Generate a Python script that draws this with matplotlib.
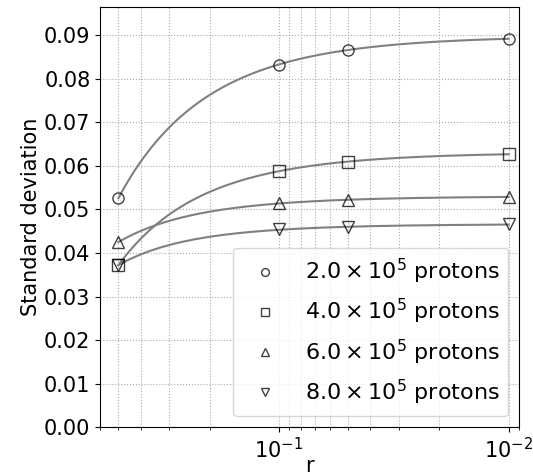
import numpy as np
import matplotlib.pyplot as plt

r = np.array([0.5, 0.1, 0.05, 0.01])
std_2e5 = [0.0526, 0.0833, 0.0867, 0.0892]
std_4e5 = [0.0372, 0.0589, 0.0608, 0.0628]
std_6e5 = [0.0425, 0.0514, 0.0522, 0.0529]
std_8e5 = [0.0372, 0.0454, 0.0459, 0.0466]

series = [std_2e5, std_4e5, std_6e5, std_8e5]
markers = ['o', 's', '^', 'v']
labels = [r'$2.0\times10^5$ protons', r'$4.0\times10^5$ protons',
          r'$6.0\times10^5$ protons', r'$8.0\times10^5$ protons']

fig, ax = plt.subplots(figsize=(5.33, 4.74), dpi=100)

rr = np.logspace(np.log10(r.min()), np.log10(r.max()), 200)
for y, m, lab in zip(series, markers, labels):
    # smooth fit through the points
    coef = np.polyfit(r, y, 2)
    ax.plot(rr, np.polyval(coef, rr), color='grey', lw=1.5, zorder=2)
    ax.plot(r, y, ls='none', marker=m, ms=8, mfc='none', mec='black',
            mew=1.0, alpha=0.75, label=lab, zorder=3)

ax.set_xscale('log')
ax.set_xlim(0.6, 0.009)
ax.set_ylim(0, 0.0965)
ax.set_yticks(np.arange(0, 0.091, 0.01))
ax.grid(which='both', axis='x', ls=':', color='#aaaaaa')
ax.grid(which='major', axis='y', ls=':', color='#aaaaaa')
ax.tick_params(labelsize=15)
ax.set_xlabel('r', fontsize=15, labelpad=-4)
ax.set_ylabel('Standard deviation', fontsize=15, labelpad=2)
ax.legend(loc='lower right', fontsize=16, markerscale=0.7)

plt.subplots_adjust(left=0.188, right=0.974, top=0.985, bottom=0.099)
plt.savefig('out.png')
